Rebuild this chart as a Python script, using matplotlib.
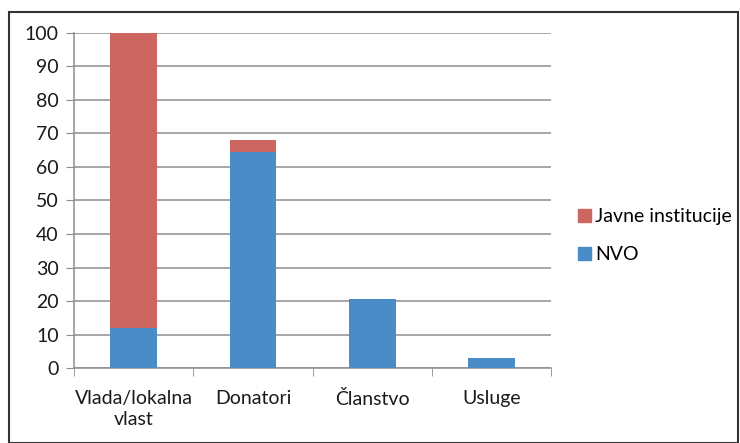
import numpy as np
import matplotlib
matplotlib.use("Agg")
import matplotlib.pyplot as plt
from matplotlib.patches import Patch, Rectangle

categories = ["Vlada/lokalna\nvlast", "Donatori", "Članstvo", "Usluge"]
nvo = [12, 64.5, 20.5, 3]
javne = [88, 3.5, 0, 0]
y_ticks = list(range(0, 101, 10))

RED = "#CD6560"
BLUE = "#4A8CC8"
GRID = "#8E8E8E"
TEXT = "#1a1a1a"

plt.rcParams["font.family"] = ["Lato", "DejaVu Sans"]

fig = plt.figure(figsize=(7.4, 4.43), dpi=100)
ax = fig.add_axes([0.1, 0.169, 0.645, 0.757])

x = np.arange(len(categories))
ax.bar(x, nvo, width=0.39, color=BLUE, zorder=3)
ax.bar(x, javne, width=0.39, bottom=nvo, color=RED, zorder=3)

ax.set_xlim(-0.5, len(categories) - 0.5)
ax.set_ylim(0, 100)
ax.set_yticks(y_ticks)
ax.set_yticklabels([str(v) for v in y_ticks], fontsize=14, color=TEXT)
ax.yaxis.grid(True, color=GRID, linewidth=1.1, zorder=0)
ax.tick_params(axis="y", length=6, color=GRID, pad=5)

ax.set_xticks(x)
ax.set_xticklabels(categories, fontsize=14, color=TEXT, linespacing=1.25)
ax.set_xticks(np.arange(-0.5, len(categories)), minor=True)
ax.tick_params(axis="x", which="major", length=0, pad=16)
ax.tick_params(axis="x", which="minor", length=6, color=GRID)

for side in ["top", "right"]:
    ax.spines[side].set_visible(False)
for side in ["left", "bottom"]:
    ax.spines[side].set_color(GRID)
    ax.spines[side].set_linewidth(1.1)

handles = [Patch(color=RED, label="Javne institucije"), Patch(color=BLUE, label="NVO")]
ax.legend(handles=handles, loc="center left", bbox_to_anchor=(1.02, 0.395), frameon=False,
          handlelength=0.65, handleheight=0.65, handletextpad=0.2, labelspacing=1.05,
          prop={"size": 14})

# outer frame around the whole chart
fig.patches.append(Rectangle((9 / 740, 0.0), 729 / 740, 1 - 12 / 443, transform=fig.transFigure,
                             fill=False, edgecolor="#333333", linewidth=1.5))

fig.savefig("out.png", dpi=100)
